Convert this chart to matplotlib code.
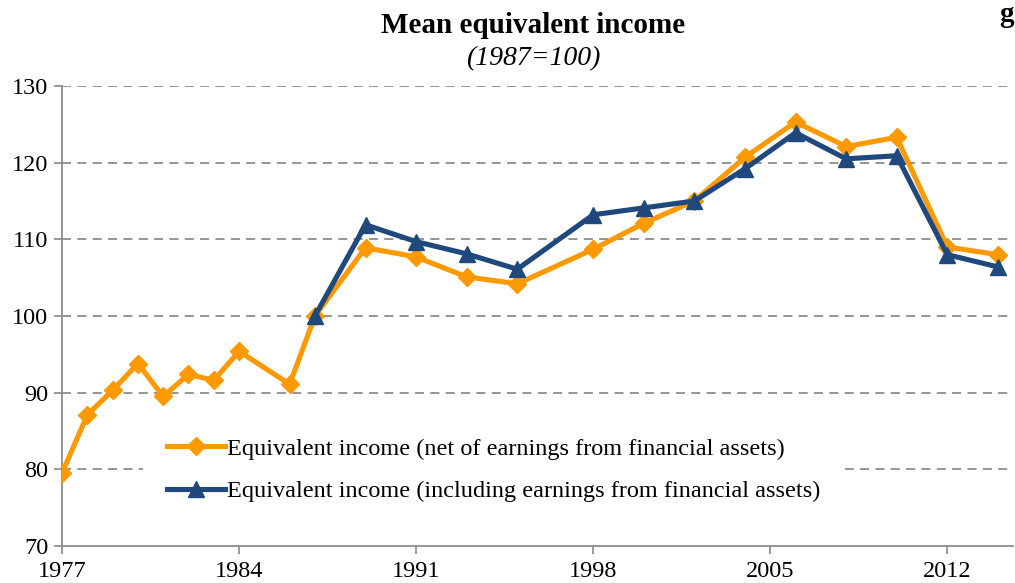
import matplotlib
matplotlib.use('Agg')
import matplotlib.pyplot as plt

# values (1987 = 100)
years_net = [1977, 1978, 1979, 1980, 1981, 1982, 1983, 1984, 1986, 1987, 1989, 1991,
             1993, 1995, 1998, 2000, 2002, 2004, 2006, 2008, 2010, 2012, 2014]
income_net = [79.5, 87.1, 90.3, 93.8, 89.5, 92.4, 91.6, 95.4, 91.1, 100.0, 108.9, 107.7,
              105.1, 104.2, 108.7, 112.1, 115.0, 120.7, 125.3, 122.1, 123.3, 109.0, 108.0]

years_incl = [1987, 1989, 1991, 1993, 1995, 1998, 2000, 2002, 2004, 2006, 2008, 2010, 2012, 2014]
income_incl = [100.0, 111.9, 109.7, 108.1, 106.1, 113.2, 114.1, 115.0, 119.2, 123.9,
               120.5, 120.9, 108.0, 106.4]

label_net = "Equivalent income (net of earnings from financial assets)"
label_incl = "Equivalent income (including earnings from financial assets)"
xticks = [1977, 1984, 1991, 1998, 2005, 2012]
yticks = [70, 80, 90, 100, 110, 120, 130]

plt.rcParams['font.family'] = ['Liberation Serif', 'DejaVu Serif']
fs = 17.5

fig = plt.figure(figsize=(10.15, 5.83), dpi=100)
ax = fig.add_axes([0.0611, 0.0635, 0.937, 0.789])

ax.plot(years_net, income_net, color='#FF9900', lw=3.7, marker='D', ms=9.5,
        label=label_net, zorder=3)
ax.plot(years_incl, income_incl, color='#1F497D', lw=3.7, marker='^', ms=11,
        label=label_incl, zorder=4)

ax.set_xlim(1977, 2014.6)
ax.set_ylim(70, 130)
ax.set_xticks(xticks)
ax.set_yticks(yticks)
ax.tick_params(labelsize=fs, colors='#888888', labelcolor='black', length=6, width=1.2)
ax.tick_params(axis='x', pad=5)
ax.tick_params(axis='y', pad=4)

for y in yticks[1:]:
    ax.axhline(y, color='#8c8c8c', lw=1.3, ls=(0, (5, 3.5)), zorder=1)

for side in ['top', 'right']:
    ax.spines[side].set_visible(False)
for side in ['left', 'bottom']:
    ax.spines[side].set_color('#8c8c8c')
    ax.spines[side].set_linewidth(1.3)

leg = ax.legend(loc='center', bbox_to_anchor=(0.454, 0.165), fontsize=fs,
                frameon=True, framealpha=1, edgecolor='white', fancybox=False,
                handlelength=2.4, handletextpad=0.08, labelspacing=0.85,
                borderpad=1.0, borderaxespad=0)
leg.get_frame().set_linewidth(0)
leg.set_zorder(2)

fig.text(0.525, 0.957, "Mean equivalent income", ha='center', va='center',
         fontsize=21, fontweight='bold')
fig.text(0.525, 0.9, "(1987=100)", ha='center', va='center',
         fontsize=20, fontstyle='italic')
fig.text(0.999, 0.975, "g", ha='right', va='center', fontsize=21, fontweight='bold')

fig.savefig('out.png', dpi=100)
